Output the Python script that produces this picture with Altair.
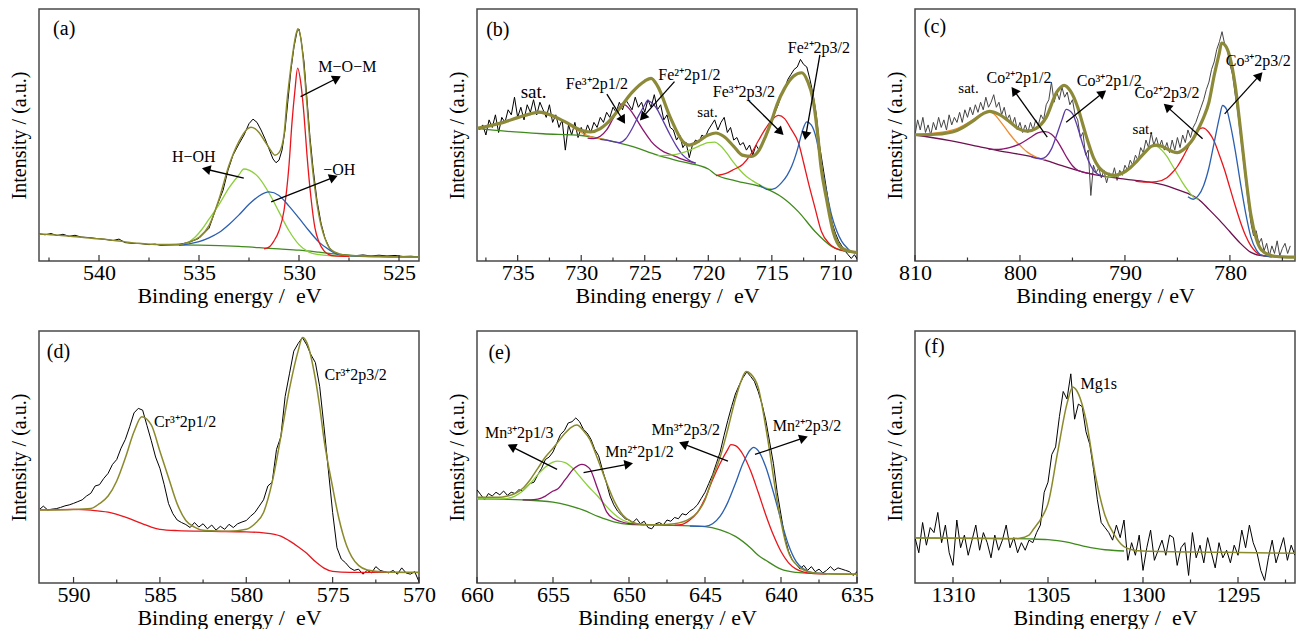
import math
import altair as alt
import pandas as pd

FONT = "Liberation Serif"
W, H = 380, 252

BLACK = "#000000"
GREY = "#454545"
OLIVE = "#8a8a2c"
OLIVE_THICK = "#8c8a38"
DKGREEN = "#3f8a1c"
LTGREEN = "#8ccf3a"
RED = "#e8161c"
BLUE = "#2b5fb0"
VIOLET = "#5b3aa8"
MAGENTA = "#8b1670"
ORANGE = "#f08c30"
MAROON = "#6e1050"

A_DOMAIN = (543, 524)
A_MAJOR = [540, 535, 530, 525]
A_MINOR = [542.5, 537.5, 532.5, 527.5]
A_EXP = [(543, 10.8), (542.7, 10.4), (542.4, 10.9), (542.1, 10.1), (541.8, 10.6), (541.5, 9.8), (541.2, 10.2),
         (540.9, 9.5), (540.5, 9.3), (540.1, 8.9), (539.7, 8.6), (539.3, 8.1), (539, 8.7), (538.7, 7.3),
         (538.3, 7.0), (537.9, 6.9), (537.5, 6.5), (537.2, 6.7), (536.9, 6.2), (536.5, 6.4), (536, 6.6),
         (535.5, 7.4), (535, 9.0), (534.5, 13), (534.1, 22), (533.8, 28), (533.55, 36), (533.3, 42),
         (533, 46.5), (532.75, 50), (532.5, 54.5), (532.3, 56.3), (532.1, 55), (531.9, 52), (531.7, 48.5),
         (531.5, 44.5), (531.3, 40.5), (531.15, 39), (531, 40), (530.85, 44), (530.7, 52), (530.55, 64),
         (530.4, 76), (530.25, 85), (530.1, 91), (530.0, 92), (529.9, 88), (529.75, 79), (529.6, 64),
         (529.45, 49), (529.3, 37), (529.1, 24), (528.9, 15), (528.7, 9), (528.5, 5.5), (528.3, 3.5),
         (528, 2.6), (527.6, 2.3), (527.2, 2.1), (526.8, 2.4), (526.4, 2.0), (526, 2.3), (525.6, 2.0),
         (525.2, 2.2), (524.8, 1.8), (524.4, 1.9), (524, 1.6)]
A_BG = [(537, 6.4), (535, 6.3), (533, 5.8), (532, 5.3), (531, 4.8), (530, 4.3), (529, 3.5), (528, 2.6),
        (527, 2.0), (525, 1.7), (524, 1.6)]
A_OH = [(536, 6.2), (535.5, 6.8), (535, 7.7), (534.5, 9.2), (534, 11.3), (533.5, 14.5), (533, 18.3),
        (532.5, 22.5), (532, 25.8), (531.5, 27.4), (531, 26), (530.5, 21.8), (530, 17), (529.5, 12),
        (529, 7.5), (528.5, 4.5), (528, 2.5), (527.5, 2.0), (527, 1.8), (526, 1.7), (524, 1.6)]
A_HOH = [(536, 6.2), (535.67, 6.8), (535.2, 9.4), (534.85, 12.6), (534.5, 16.6), (534, 22.4), (533.5, 29),
         (533, 34.2), (532.76, 36.5), (532.5, 36.1), (532, 33), (531.5, 27), (531, 19.5), (530.5, 12),
         (530, 6.5), (529.5, 3.5), (529, 2.5), (528.5, 2.1), (528, 2.0), (526, 1.7), (524, 1.6)]
A_MOM = [(531.75, 4.8), (531.5, 5.5), (531.25, 8), (531, 12), (530.75, 20), (530.5, 38), (530.35, 55),
         (530.2, 68), (530.07, 76.5), (529.9, 70), (529.75, 58), (529.6, 42), (529.4, 25), (529.2, 13),
         (529, 7.5), (528.75, 4), (528.5, 2.5), (528.25, 2.0), (527.5, 1.8)]
A_ENV = [(543, 10.7), (542, 10.2), (541, 9.5), (540, 8.8), (539, 7.9), (538, 7.0), (537, 6.5), (536, 6.6),
         (535.5, 7.6), (535, 9.4), (534.5, 14), (534, 24.5), (533.5, 38), (533, 47.5), (532.6, 52.3),
         (532.4, 53.1), (532.2, 52.5), (532, 51), (531.75, 48), (531.5, 45), (531.2, 42), (531, 43),
         (530.75, 50), (530.6, 63.5), (530.45, 74), (530.3, 83), (530.15, 90), (530.05, 92.2), (529.9, 88),
         (529.8, 81), (529.6, 62), (529.46, 47.8), (529.3, 35), (529.13, 24.4), (528.95, 16), (528.8, 11.3),
         (528.6, 7.0), (528.48, 5.2), (528.2, 3.5), (527.7, 2.3), (527, 2.0), (526, 1.8), (524, 1.6)]
A_TEXT = [(541.74, 92.2, "(a)", 20), (527.58, 76.9, "M\u2212O\u2212M", 16),
          (535.26, 41.1, "H\u2212OH", 16), (527.99, 36.1, "\u2212OH", 16)]
A_ARROWS = [(529.92, 65.2, 527.91, 73.3), (532.76, 32.9, 534.85, 36.8), (531.39, 23.5, 528.07, 33.8)]

B_DOMAIN = (738.2, 708.3)
B_MAJOR = [735, 730, 725, 720, 715, 710]
B_MINOR = [737.5, 732.5, 727.5, 722.5, 717.5, 712.5]
B_EXP_START, B_EXP_STEP = 738.0, 0.25
B_EXP = [52, 54, 50, 56, 53, 58, 51, 57, 55, 60, 58, 65, 57, 61, 56, 62, 59, 64, 58, 63,
         60, 57, 62, 55, 58, 53, 56, 44, 54, 50, 55, 49, 53, 50, 54, 51, 55, 53, 57, 55,
         59, 57, 61, 59, 63, 60, 64, 62, 60, 65, 61, 63, 59, 64, 61, 66, 60, 62, 56, 58,
         53, 52, 48, 50, 45, 47, 41, 46, 48, 47, 50, 49, 52, 54, 56, 52, 55, 57, 51, 53,
         48, 49, 46, 47, 44, 46, 42, 46, 44, 47, 49, 53, 55, 59, 62, 66, 68, 72, 74, 76,
         77, 80, 78, 77, 72, 66, 58, 46, 38, 30, 22, 15, 11, 8, 6, 4, 2.5, 1, 2.5, 0.5]
B_BG = [(738.2, 52.6), (736, 51.5), (733, 50.5), (730, 49.8), (728, 48), (726, 45.5), (724, 42), (722, 39.3),
        (720, 36.5), (719.4, 34.2), (717.85, 31.8), (715.5, 28.8), (714.2, 25.3), (712.9, 19.5),
        (711.6, 11.7), (710.3, 5.8), (709, 3.6), (708.3, 3.3)]
B_SAT1 = [(738.2, 52.6), (737, 53.9), (736, 55.2), (735, 56.9), (734, 58.3), (733.5, 58.8), (733, 58.5),
          (732, 56.8), (731, 54.2), (730.5, 52.5), (730, 51), (729.5, 49.8), (729, 49), (728.5, 48.5), (728, 48)]
B_FE3_12 = [(729.5, 48.8), (729, 48.6), (728.5, 49.5), (728, 52), (727.5, 56.5), (727, 61), (726.8, 62.3),
            (726.5, 61.8), (726, 59), (725.5, 55), (725, 51), (724.5, 47.5), (724, 45), (723.5, 43.3),
            (723, 42.3), (722.5, 41.3), (722, 40.3), (721.5, 39.5), (721, 38.8)]
B_FE2_12 = [(728.5, 48.3), (728, 48), (727.5, 47.4), (727, 47), (726.5, 48.5), (726, 52.5), (725.5, 57.5),
            (725, 62), (724.8, 63.6), (724.5, 63), (724, 60), (723.5, 55), (723, 50), (722.5, 45.5),
            (722, 42), (721.5, 40), (721, 38.8)]
B_SAT2 = [(724, 41.8), (723, 42), (722, 43), (721, 45), (720, 47), (719.5, 47.2), (719, 45.5), (718.5, 42.5),
          (718, 39), (717.5, 36), (717, 33.5), (716.5, 31.8), (716, 30.3), (715.5, 29), (715, 28.4)]
B_FE3_32 = [(719.4, 33.9), (718.5, 35), (718, 36.3), (717.3, 38.3), (716.7, 42), (716.03, 48), (715.5, 52.5),
            (715, 56), (714.47, 57.8), (714, 56.5), (713.5, 52.5), (712.9, 46.8), (712.5, 39), (712.13, 31.2),
            (711.6, 21), (711.1, 11.7), (710.5, 7), (710.05, 5.2), (709.5, 4.3), (708.75, 3.6), (708.3, 3.3)]
B_FE2_32 = [(716, 30.3), (715.25, 28.3), (714.75, 28.8), (714.25, 31), (713.8, 34), (713.43, 37.7), (713, 44),
            (712.6, 51.5), (712.26, 55.2), (711.9, 54), (711.5, 48.5), (711.1, 37.7), (710.7, 27.5),
            (710.3, 18.2), (709.9, 12), (709.5, 7.8), (709, 4.8), (708.75, 3.6), (708.3, 3.3)]
B_ENV = [(738.2, 52.6), (737, 53.9), (736, 55.2), (735, 56.9), (734, 58.4), (733.3, 59.1), (732, 57.1),
         (731, 54.5), (730, 51.9), (729.3, 51.2), (728.5, 52.5), (728, 54.5), (727, 60.4), (726, 66.9),
         (725, 71.4), (724.5, 72.5), (724, 69.5), (723, 57.1), (722, 47.4), (721.5, 46), (721, 46.8),
         (720, 50), (719.4, 50.8), (718.8, 49.5), (718, 45.5), (717.33, 42), (716.6, 41.5), (716, 44),
         (715.5, 49.4), (715, 56), (714.6, 62), (714, 68.5), (713.3, 73.3), (712.65, 74.7), (712.2, 71.5),
         (711.74, 63.6), (711.4, 50.5), (711.14, 37.7), (710.7, 24.7), (710.18, 11.7), (709.53, 5.2),
         (708.8, 3.8), (708.3, 3.3)]
B_TEXT = [(736.56, 91.6, "(b)", 20), (733.75, 66.9, "sat.", 19),
          (728.76, 70.4, "Fe\u00b3\u207a2p1/2", 16), (721.49, 73.8, "Fe\u00b2\u207a2p1/2", 16),
          (717.2, 66.9, "Fe\u00b3\u207a2p3/2", 16), (720.06, 59.1, "sat.", 15),
          (711.3, 84.4, "Fe\u00b2\u207a2p3/2", 16)]
B_ARROWS = [(727.98, 66.2, 726.55, 54.5), (722.66, 71.2, 725.38, 55.8), (716.81, 63.6, 714.08, 50.0),
            (711.22, 81.8, 712.39, 48.0)]

C_DOMAIN = (810, 773.8)
C_MAJOR = [810, 800, 790, 780]
C_MINOR = [805, 795, 785, 775]
C_EXP_START, C_EXP_STEP = 810.0, 0.25
C_EXP = [50, 56, 52, 57, 51, 54, 50, 55, 52, 57, 53, 56, 52, 58, 54, 57, 55, 59, 55, 60,
         57, 61, 58, 62, 59, 63, 60, 65, 61, 63, 66, 61, 63, 58, 61, 56, 58, 54, 57, 52,
         55, 51, 54, 51, 55, 52, 56, 54, 58, 56, 62, 64, 71, 63, 67, 64, 69, 65, 67, 62,
         64, 58, 56, 49, 51, 42, 44, 26, 38, 35, 37, 33, 36, 31, 35, 33, 37, 32, 36, 34,
         38, 36, 40, 38, 42, 40, 45, 43, 48, 45, 51, 46, 49, 45, 48, 44, 47, 43, 48, 44,
         49, 45, 50, 47, 52, 49, 53, 55, 58, 61, 64, 68, 71, 76, 79, 84, 87, 91, 86, 84,
         78, 74, 66, 59, 50, 41, 32, 23, 15, 10, 12, 7, 9, 4, 7, 2, 6, 3, 8, 2,
         5, 7, 3, 6]
C_BG = [(810, 50), (806.8, 47.9), (804, 45.5), (802.2, 43.9), (800, 42.3), (798.1, 40.6), (796, 37.8),
        (794, 35.3), (792.5, 34), (790, 32.5), (788, 31.5), (786, 29.8), (785, 28.3), (784, 26.8),
        (783, 24.5), (782, 20.5), (781, 16.2), (780, 11.6), (779, 7), (778, 3.4), (777, 2.1), (775, 1.6),
        (773.8, 1.5)]
C_SAT1 = [(810, 50.1), (808, 50.8), (806, 52.5), (804.5, 56), (803.5, 58.8), (802.9, 59.3), (802.5, 58.4),
          (801.8, 55), (801, 50.5), (800.4, 47.5), (800, 45.9), (799.3, 43.2), (798.6, 41.5), (798.1, 40.6),
          (797.5, 40.2)]
C_CO2_12 = [(803, 44.4), (802, 44.3), (801, 45), (800, 46.5), (799, 49), (798.3, 50.8), (797.6, 51.3),
            (797, 50.3), (796.5, 48), (796, 44.5), (795.5, 40.8), (795, 37.8), (794.5, 36), (794, 35.3),
            (793, 34.5)]
C_CO3_12 = [(799, 41.5), (798.5, 40.8), (798, 40.6), (797.5, 41.5), (797, 44.5), (796.5, 50), (796, 56),
            (795.6, 60.2), (795, 58.5), (794.5, 53), (794, 46), (793.5, 40), (793, 36), (792.5, 34.3),
            (792, 33.5)]
C_SAT2 = [(792, 33.3), (791, 33.5), (790, 35), (789, 39), (788, 44), (787.5, 45.5), (787, 45.5), (786.5, 44),
          (786, 41.5), (785.5, 38), (785, 34.5), (784.5, 31), (784, 28), (783.5, 25.5), (783, 24.5)]
C_CO2_32 = [(789, 31.7), (788, 31.3), (787, 31.5), (786, 33), (785.5, 35), (785, 37.5), (784.5, 41), (784, 45),
            (783.5, 49), (783, 52), (782.6, 52.8), (782, 51), (781.5, 47.5), (781, 42), (780.5, 36), (780, 29),
            (779.5, 22), (779, 15.5), (778.5, 10), (778, 6), (777.5, 3.5), (777, 2.3), (776, 1.7), (775, 1.5)]
C_CO3_32 = [(784, 25.5), (783.5, 24.5), (783, 26), (782.5, 30), (782, 37), (781.5, 47), (781, 57), (780.7, 61.7),
            (780.3, 60), (780, 55), (779.5, 44), (779, 31), (778.5, 19), (778, 9.5), (777.5, 4.5), (777, 2.3),
            (776, 1.6)]
C_ENV = [(810, 50.1), (808, 50.3), (806, 51.8), (804.5, 55.5), (803.5, 58.5), (802.9, 59.4), (802, 58.2),
         (801, 55.3), (800.2, 52.6), (799.3, 51.5), (798.5, 52.5), (797.5, 57), (796.5, 67), (795.8, 69.7),
         (795.2, 67.5), (794.5, 61), (794, 54), (793.5, 47), (793, 41), (792.5, 37.3), (792, 35.3),
         (791.5, 34.3), (791, 34), (790.5, 34.5), (790, 35.5), (789.5, 37), (789, 39), (788.5, 41.3),
         (788, 43.5), (787.5, 45.5), (787, 46), (786.5, 45.5), (786, 44.5), (785.5, 43.5), (785, 43),
         (784.5, 44), (784, 45.9), (783.5, 48.5), (783, 52.5), (782.5, 57), (782, 63), (781.5, 73.6),
         (781, 82.8), (780.8, 86.5), (780.5, 85.8), (780, 80.9), (779.5, 69.7), (779, 52.5), (778.5, 34),
         (778, 18.2), (777.5, 9), (777, 4.4), (776, 2.1), (775, 1.6), (773.8, 1.5)]
C_TEXT = [(808.1, 92.7, "(c)", 20), (804.9, 68.6, "sat.", 15), (800.1, 72.6, "Co\u00b2\u207a2p1/2", 16),
          (791.5, 71.6, "Co\u00b3\u207a2p1/2", 16), (786.0, 66.8, "Co\u00b2\u207a2p3/2", 16),
          (788.3, 52.2, "sat.", 15), (777.3, 79.2, "Co\u00b3\u207a2p3/2", 16)]
C_ARROWS = [(797.4, 49.2, 800.8, 69.0), (795.6, 55.1, 791.8, 67.7), (782.6, 48.5, 786.3, 62.4),
            (780.5, 58.4, 776.9, 74.9)]

D_DOMAIN = (592, 570)
D_MAJOR = [590, 585, 580, 575, 570]
D_MINOR = [587.5, 582.5, 577.5, 572.5]
D_EXP_START, D_EXP_STEP = 592.0, 0.25
D_EXP = [29.0, 30.5, 29.0, 29.3, 29.5, 30.0, 30.6, 31.0, 31.6, 32.3, 33.0, 34.5, 35.6, 38.5, 39.0, 41.5,
         43.5, 47.0, 49.0, 53.5, 57.0, 62.0, 67.5, 69.3, 68.6, 62.5, 56.5, 50.0, 45.5, 39.0, 31.5, 27.5,
         25.0, 24.0, 23.2, 22.0, 24.0, 22.2, 23.5, 21.5, 23.0, 21.0, 22.5, 21.3, 23.3, 22.0, 23.5, 24.2,
         24.8, 26.5, 28.0, 30.5, 33.0, 38.5, 40.0, 53.0, 58.0, 74.0, 83.0, 92.0, 95.0, 97.4, 94.5, 90.5,
         87.5, 78.0, 62.0, 45.0, 28.0, 14.0, 9.5, 8.0, 6.0, 5.0, 5.5, 3.5, 5.0, 4.0, 6.5, 5.0,
         4.5, 4.0, 5.0, 3.5, 6.0, 4.0, 3.5, 4.5, 0.5]
D_BG = [(592, 29), (590, 29.2), (589, 28.9), (588, 28.1), (587, 26.1), (586, 23.5), (585.5, 22.2), (585, 21.3),
        (584, 20.8), (582, 20.5), (580, 20.3), (579, 19.9), (578, 18.6), (577.5, 16.7), (577, 14.4),
        (576.5, 11.8), (576, 8.5), (575.5, 5.9), (575, 4.6), (574, 4.2), (570, 4.2)]
D_ENV = [(592, 29), (590, 29.2), (589, 29.6), (588.5, 31.5), (588, 34.5), (587.5, 40.5), (587, 49.7),
         (586.5, 60), (586.05, 66), (585.5, 62.7), (585, 52.3), (584.5, 41.8), (584, 31.4), (583.5, 24.8),
         (583, 22.2), (582.5, 20.9), (582, 20.7), (581, 20.5), (580, 21.3), (579.5, 23.5), (579, 28),
         (578.5, 40), (578, 58), (577.5, 77), (577, 92), (576.74, 97.4), (576.5, 95.5), (576, 81),
         (575.75, 70), (575.5, 57), (575, 38), (574.65, 26), (574.2, 15), (573.9, 10.5), (573.5, 7),
         (573, 5.2), (572, 4.4), (570, 4.2)]
D_TEXT = [(590.87, 91.5, "(d)", 20), (583.54, 64.0, "Cr\u00b3\u207a2p1/2", 16),
          (573.67, 82.4, "Cr\u00b3\u207a2p3/2", 16)]
D_ARROWS = []

E_DOMAIN = (660, 635)
E_MAJOR = [660, 655, 650, 645, 640, 635]
E_MINOR = [657.5, 652.5, 647.5, 642.5, 637.5]
E_EXP_START, E_EXP_STEP = 660.0, 0.25
E_EXP = [37.0, 35.0, 33.0, 35.5, 34.5, 36.0, 35.0, 36.5, 34.8, 36.0, 35.5, 37.0, 36.5, 38.0, 39.5, 40.0,
         43.0, 45.5, 49.0, 50.0, 52.0, 55.5, 59.0, 60.5, 63.5, 64.0, 65.5, 64.0, 61.0, 59.5, 57.0, 53.0,
         50.5, 45.0, 40.0, 34.5, 31.0, 28.5, 27.0, 25.5, 25.0, 24.0, 25.5, 23.5, 24.5, 22.0, 21.5, 23.5,
         24.0, 23.0, 25.0, 24.5, 26.0, 25.5, 27.5, 27.0, 28.5, 29.5, 31.0, 33.5, 36.0, 39.5, 43.0, 47.5,
         52.0, 58.5, 64.5, 70.0, 75.0, 78.5, 81.5, 83.8, 82.0, 80.0, 76.0, 71.0, 64.5, 56.0, 47.5, 36.0,
         27.0, 18.0, 12.5, 9.0, 7.5, 5.5, 7.0, 5.0, 6.5, 4.5, 5.5, 4.0, 5.0, 6.5, 5.0, 6.0,
         5.5, 5.0, 4.5, 3.0, 4.5]
E_BG = [(660, 33.4), (657, 33), (655, 32.1), (654, 30.8), (653, 28.9), (652, 26.3), (651, 24.3), (650, 23.3),
        (648, 23), (645, 22.4), (644, 21.1), (643, 18.5), (642, 13.9), (641.5, 11), (641, 9), (640, 5.5),
        (639, 4.2), (638, 3.8), (635, 3.5)]
E_MN3_12 = [(660, 33.4), (658.5, 33.4), (658, 33.6), (657.5, 34.5), (657, 36.5), (656.5, 39.5), (656, 43),
            (655.5, 46), (655, 48), (654.7, 48.4), (654.2, 47.8), (653.7, 45.5), (653.2, 42), (652.7, 38.5),
            (652.1, 34.7), (651.5, 30.5), (651, 27.5), (650.6, 25.6), (650, 24), (649.5, 23.4), (649, 23.2)]
E_MN2_12 = [(657, 33), (656.5, 33), (656, 33.3), (655.5, 34.5), (655, 36.5), (654.7, 37.3), (654.2, 41),
            (653.6, 45.5), (653.1, 47.1), (652.6, 45.5), (652.1, 38), (651.8, 33), (651.47, 28.2), (651, 25.5),
            (650.6, 24.5), (650, 23.6), (649, 23.2)]
E_MN3_32 = [(647, 23), (646.5, 23.3), (646, 25), (645.5, 28), (645, 33.5), (644.5, 41), (644, 47.5),
            (643.5, 53), (643.3, 54.9), (643, 54.5), (642.5, 51), (642, 44.5), (641.5, 36), (641, 27),
            (640.5, 19), (640, 12.5), (639.5, 8), (639, 5.5), (638.5, 4.3), (638, 3.8), (637, 3.6)]
E_MN2_32 = [(646, 22.6), (645, 22.5), (644.5, 23.5), (644, 26.5), (643.5, 32), (643, 39.5), (642.5, 47.5),
            (642, 53), (641.8, 53.8), (641.5, 52.5), (641, 46), (640.5, 36), (640, 25), (639.5, 15),
            (639, 8.5), (638.5, 5.5), (638, 4.2), (637, 3.7)]
E_ENV = [(660, 34), (658.5, 34), (658, 34.5), (657.5, 35.5), (657, 37.5), (656.5, 41), (656, 45.5),
         (655.5, 50), (655, 53.5), (654.73, 55.5), (654.2, 59.5), (653.8, 61.8), (653.43, 62.7), (653, 60.5),
         (652.56, 56.8), (652.13, 50.3), (651.8, 45), (651.48, 39.9), (650.94, 32.1), (650.4, 26.9),
         (649.8, 24.2), (649.3, 23.3), (648, 23.1), (647, 23.5), (646, 25.5), (645.5, 28), (645, 33),
         (644.5, 42), (644, 50), (643.5, 61), (643, 73), (642.6, 80.5), (642.3, 83.9), (642, 83),
         (641.5, 77.6), (640.9, 58.1), (640.2, 30.8), (639.6, 13.9), (638.9, 6.8), (638, 4.2), (637, 3.7),
         (635, 3.5)]
E_TEXT = [(658.52, 91.3, "(e)", 20), (657.22, 59.4, "Mn\u00b3\u207a2p1/3", 16),
          (649.31, 51.9, "Mn\u00b2\u207a2p1/2", 16), (646.27, 60.7, "Mn\u00b3\u207a2p3/2", 16),
          (638.29, 62.3, "Mn\u00b2\u207a2p3/2", 16)]
E_ARROWS = [(654.73, 45.1, 657.98, 54.9), (652.99, 43.8, 649.74, 47.5), (643.49, 48.4, 646.70, 55.8),
            (641.71, 51.0, 638.24, 58.1)]

F_DOMAIN = (1312, 1292)
F_MAJOR = [1310, 1305, 1300, 1295]
F_MINOR = [1307.5, 1302.5, 1297.5, 1292.5]
F_EXP_START, F_EXP_STEP = 1312.0, 0.2
F_EXP = [18, 12, 24, 15, 22, 20, 28, 16, 23, 12, 7, 25, 14, 19, 11, 17, 23, 13, 20, 16,
         10, 19, 13, 17, 23, 14, 18, 12, 16, 13, 17, 16, 20, 23, 36, 40, 51, 54, 66, 76,
         73, 83, 65, 71, 70, 60, 55, 45, 33, 24, 22, 20, 17, 23, 18, 25, 9, 16, 11, 19,
         5, 14, 21, 9, 13, 17, 11, 19, 18, 7, 14, 16, 3, 20, 10, 15, 8, 18, 12, 6,
         16, 10, 13, 8, 15, 11, 21, 14, 23, 16, 12, 5, 1, 10, 17, 8, 13, 18, 9, 15, 11]
F_BG = [(1312, 17.9), (1308, 17.7), (1306, 17.5), (1305, 17.2), (1304.5, 16.8), (1304, 16.2), (1303.5, 15.3),
        (1303, 14.4), (1302.5, 13.7), (1302, 13.2), (1301.5, 12.9), (1301, 12.7)]
F_ENV = [(1312, 17.9), (1308, 17.7), (1307, 17.6), (1306.5, 17.8), (1306, 19), (1305.75, 21.5), (1305.5, 24),
         (1305.25, 27), (1305, 31.5), (1304.5, 51.6), (1304, 71.2), (1303.7, 77.8), (1303.5, 76.5),
         (1303, 64.7), (1302.5, 42.5), (1302, 26.8), (1301.5, 19), (1301, 14.4), (1300.5, 13.1),
         (1300, 12.7), (1296, 12.2), (1292, 11.8)]
F_TEXT = [(1310.97, 93.5, "(f)", 20), (1302.33, 79.1, "Mg1s", 16)]
F_ARROWS = []


def pairs_df(pairs):
    return pd.DataFrame(pairs, columns=["x", "y"])


def grid_df(start, step, values):
    return pd.DataFrame({"x": [round(start - step * i, 3) for i in range(len(values))], "y": values})


def make_panel(domain, major, minor, title_x, exp_df, exp_color, curves, text, arrows):
    hi, lo = domain
    xscale = alt.Scale(domain=[lo, hi], reverse=True, nice=False, zero=False)
    yscale = alt.Scale(domain=[0, 100], nice=False, zero=False)
    xaxis = alt.Axis(title=title_x, values=major, format="d", ticks=False, domain=False, grid=False,
                     labelPadding=1, titlePadding=2, labelFlush=False, labelOverlap=False,
                     labelFontSize=22, titleFontSize=22)
    yaxis = alt.Axis(title="Intensity / (a.u.)", labels=False, ticks=False, domain=False, grid=False,
                     titlePadding=10, titleFontSize=20)

    def X(f):
        return alt.X(f + ":Q", scale=xscale, axis=xaxis)

    def Y(f):
        return alt.Y(f + ":Q", scale=yscale, axis=yaxis)

    layers = []
    layers.append(alt.Chart(exp_df).mark_line(color=exp_color, strokeWidth=1.0, clip=True)
                  .encode(x=X("x"), y=Y("y")))
    for pairs, color, width in curves:
        layers.append(alt.Chart(pairs_df(pairs))
                      .mark_line(color=color, strokeWidth=width, interpolate="monotone", clip=True)
                      .encode(x=X("x"), y=Y("y")))
    layers.append(alt.Chart(pd.DataFrame({"t": major})).mark_rule(color="#333333", strokeWidth=1.2)
                  .encode(x=X("t"), y=alt.value(H), y2=alt.value(H - 6)))
    layers.append(alt.Chart(pd.DataFrame({"t": minor})).mark_rule(color="#333333", strokeWidth=1.2)
                  .encode(x=X("t"), y=alt.value(H), y2=alt.value(H - 3.5)))
    if arrows:
        kx = W / (hi - lo)
        ky = H / 100.0
        rows = []
        back = 4.3
        for x1, y1, x2, y2 in arrows:
            dx = (x1 - x2) * kx
            dy = -(y2 - y1) * ky
            L = math.hypot(dx, dy)
            ux, uy = dx / L, dy / L
            ang = math.degrees(math.atan2(dx, -dy)) % 360
            hx = x2 + back * ux / kx
            hy = y2 + back * uy / ky
            rows.append({"x1": x1, "y1": y1, "x2": hx, "y2": hy, "ang": ang})
        adf = pd.DataFrame(rows)
        layers.append(alt.Chart(adf).mark_rule(color=BLACK, strokeWidth=1.3)
                      .encode(x=X("x1"), y=Y("y1"), x2="x2:Q", y2="y2:Q"))
        layers.append(alt.Chart(adf).mark_point(shape="triangle-up", filled=True, size=100, color=BLACK,
                                                opacity=1, strokeWidth=0)
                      .encode(x=X("x2"), y=Y("y2"), angle=alt.Angle("ang:Q", scale=None)))
    tdf = pd.DataFrame(text, columns=["x", "y", "label", "fs"])
    layers.append(alt.Chart(tdf).mark_text(font=FONT, color=BLACK, align="center", baseline="middle")
                  .encode(x=X("x"), y=Y("y"), text="label:N", size=alt.Size("fs:Q", scale=None)))
    return alt.layer(*layers).properties(width=W, height=H)


TITLE2 = "Binding energy / \u00a0eV"
TITLE1 = "Binding energy / eV"

pa = make_panel(A_DOMAIN, A_MAJOR, A_MINOR, TITLE2, pairs_df(A_EXP), BLACK,
                [(A_BG, DKGREEN, 1.3), (A_HOH, LTGREEN, 1.3), (A_OH, BLUE, 1.3), (A_MOM, RED, 1.3),
                 (A_ENV, OLIVE, 1.5)], A_TEXT, A_ARROWS)
pb = make_panel(B_DOMAIN, B_MAJOR, B_MINOR, TITLE2, grid_df(B_EXP_START, B_EXP_STEP, B_EXP), BLACK,
                [(B_BG, DKGREEN, 1.3), (B_SAT1, ORANGE, 1.3), (B_FE3_12, MAGENTA, 1.3), (B_FE2_12, VIOLET, 1.3),
                 (B_SAT2, LTGREEN, 1.3), (B_FE3_32, RED, 1.3), (B_FE2_32, BLUE, 1.3), (B_ENV, OLIVE_THICK, 3.2)],
                B_TEXT, B_ARROWS)
pc = make_panel(C_DOMAIN, C_MAJOR, C_MINOR, TITLE1, grid_df(C_EXP_START, C_EXP_STEP, C_EXP), GREY,
                [(C_BG, MAROON, 1.3), (C_SAT1, ORANGE, 1.3), (C_CO2_12, MAGENTA, 1.3), (C_CO3_12, VIOLET, 1.3),
                 (C_SAT2, LTGREEN, 1.3), (C_CO2_32, RED, 1.3), (C_CO3_32, BLUE, 1.3), (C_ENV, OLIVE_THICK, 3.2)],
                C_TEXT, C_ARROWS)
pd_ = make_panel(D_DOMAIN, D_MAJOR, D_MINOR, TITLE2, grid_df(D_EXP_START, D_EXP_STEP, D_EXP), BLACK,
                 [(D_BG, RED, 1.3), (D_ENV, OLIVE, 1.5)], D_TEXT, D_ARROWS)
pe = make_panel(E_DOMAIN, E_MAJOR, E_MINOR, TITLE1, grid_df(E_EXP_START, E_EXP_STEP, E_EXP), BLACK,
                [(E_BG, DKGREEN, 1.3), (E_MN3_12, LTGREEN, 1.3), (E_MN2_12, MAGENTA, 1.3), (E_MN3_32, RED, 1.3),
                 (E_MN2_32, BLUE, 1.3), (E_ENV, OLIVE, 1.5)], E_TEXT, E_ARROWS)
pf = make_panel(F_DOMAIN, F_MAJOR, F_MINOR, TITLE2, grid_df(F_EXP_START, F_EXP_STEP, F_EXP), BLACK,
                [(F_BG, DKGREEN, 1.3), (F_ENV, OLIVE, 1.5)], F_TEXT, F_ARROWS)

chart = (alt.concat(pa, pb, pc, pd_, pe, pf, columns=3, bounds="flush",
                    spacing=alt.RowColnumber(row=70, column=58))
         .properties(padding={"left": 0, "top": 0, "right": 0, "bottom": 0}, background="white")
         .configure_view(stroke="#4a4a4a", strokeWidth=1.5)
         .configure_axis(labelFont=FONT, titleFont=FONT, titleFontWeight="normal",
                         labelColor=BLACK, titleColor=BLACK))

chart.save("out.html", embed_options={"renderer": "svg", "actions": False})
